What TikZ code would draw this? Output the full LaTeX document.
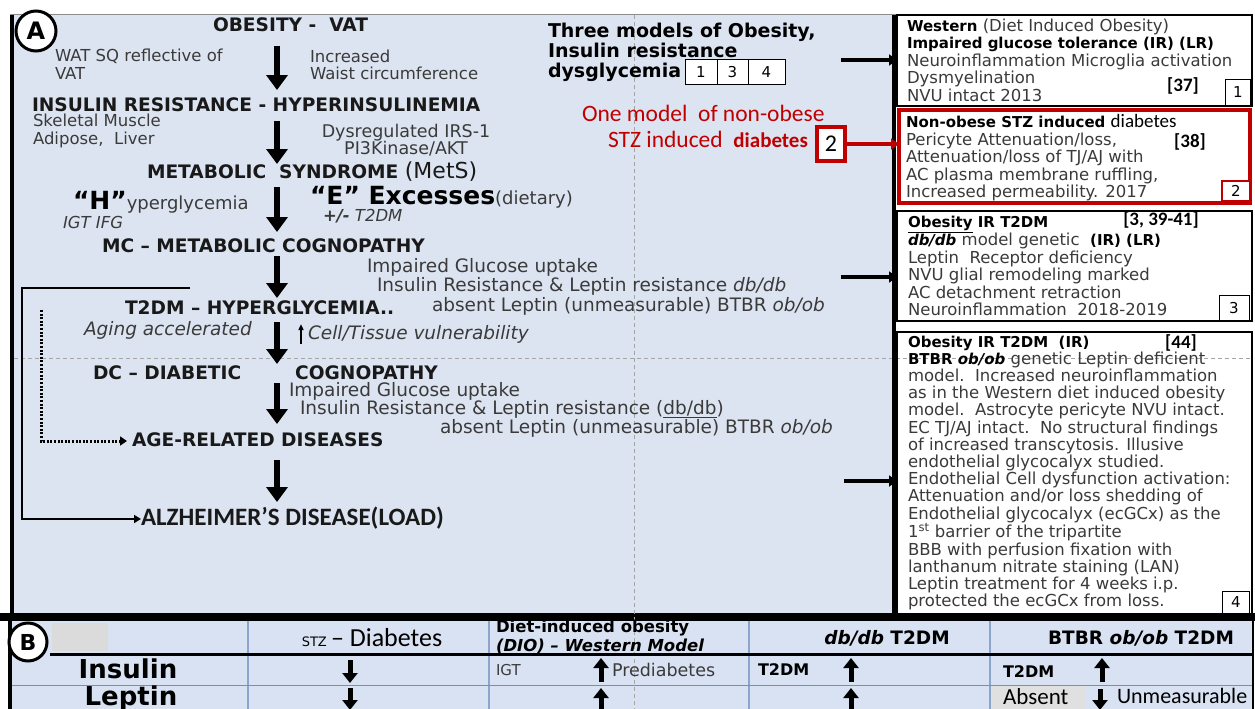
\documentclass[tikz,border=0pt]{standalone}
\usepackage{fontspec}
\setmainfont{DejaVu Sans}
\newfontfamily\calib{Carlito}
\usetikzlibrary{positioning,arrows.meta,calc}
\definecolor{PanelBlue}{RGB}{221,228,241}
\definecolor{TableBlue}{RGB}{217,226,242}
\definecolor{TextGray}{RGB}{58,58,58}
\definecolor{ModelRed}{RGB}{192,0,0}
\definecolor{GridBlue}{RGB}{140,165,205}
\definecolor{GuideGray}{RGB}{165,165,165}
\newcommand{\fsz}[2]{\fontsize{#1}{#2}\selectfont}
\newcommand{\hl}[1]{{\color{black}\bfseries\fsz{15}{17.5}#1}}

\begin{document}
\begin{tikzpicture}[x=1pt, y=-1pt,
  every node/.style={inner sep=0pt, outer sep=0pt},
  head/.style={anchor=west, text height=14pt, text depth=4pt, font=\fsz{18.6}{20}\bfseries, text=black!90},
  note/.style={anchor=west, align=left, text=TextGray, font=\fsz{16.5}{17.5}},
  mid/.style={anchor=west, text=TextGray, font=\fsz{18.5}{20}},
  boxtxt/.style={anchor=west, align=left, text=TextGray, font=\fsz{16.5}{17.5}},
  ref/.style={font=\calib\bfseries\fsz{19}{19}},
  numbox/.style={draw, line width=1pt, fill=white, font=\fsz{15}{15}},
  down/.style={line width=6.5pt, -{Triangle[width=21pt,length=15pt]}},
  side/.style={line width=4.5pt, -{Triangle[width=11pt,length=8pt]}},
  tarrow/.style={line width=5pt, -{Triangle[width=15pt,length=10pt]}},
  guide/.style={GuideGray, line width=0.8pt, dash pattern=on 4pt off 3pt}]
  \useasboundingbox (0,0) rectangle (1255,709);
  \fill[white] (0,0) rectangle (1255,709);

  % panel A and table backgrounds
  \fill[PanelBlue] (12,15) rectangle (894,613);
  \fill (0,613) rectangle (1255,621);
  \fill[TableBlue] (10,621) rectangle (1253,709);
  \fill[black!14] (52,623) rectangle (108,651);
  \fill[black!12] (992,686) rectangle (1085,709);
  \draw[guide] (634,15) -- (634,709);
  \draw[guide] (14,358) -- (1252,358);
  \draw[black!45, line width=1pt] (10,15) -- (1253,15);
  \draw[line width=4pt] (12,15) -- (12,613);
  \draw[line width=4pt] (894,15) -- (894,613);

  % right column
  \node[draw, line width=1.5pt, minimum width=355pt, minimum height=91pt] (b1) at (1074.5,60.5) {};
  \node[draw=ModelRed, line width=4pt, minimum width=351pt, minimum height=93pt] (b2) at (1074.5,156.5) {};
  \node[draw, line width=1.5pt, minimum width=355pt, minimum height=110pt] (b3) at (1074.5,266) {};
  \node[draw, line width=1.5pt, minimum width=355pt, minimum height=282pt] (b4) at (1074.5,473) {};

  \node[boxtxt] (w1) at (907,60) {\hl{Western} (Diet Induced Obesity)\\\hl{Impaired glucose tolerance (IR) (LR)}\\Neuroinflammation Microglia activation\\Dysmyelination\\NVU intact 2013};
  \node[boxtxt] (w2) at (906,158) {\hl{Non-obese STZ induced} {\color{black}\calib\fsz{19}{17.5}diabetes}\\Pericyte Attenuation/loss,\\Attenuation/loss of TJ/AJ with\\AC plasma membrane ruffling,\\Increased permeability. 2017};
  \node[boxtxt] (w3) at (908,266) {\hl{\underline{Obesity} IR T2DM}\\\hl{\itshape db/db} model genetic\ \ \hl{(IR) (LR)}\\Leptin\ \ Receptor deficiency\\NVU glial remodeling marked\\AC detachment retraction\\Neuroinflammation\ \ 2018-2019};
  \node[boxtxt, font=\fsz{16.5}{17.2}] (w4) at (908,473) {\hl{Obesity IR T2DM\ \ (IR)}\\\hl{BTBR \itshape ob/ob} genetic Leptin deficient\\model.\ \ Increased neuroinflammation\\as in the Western diet induced obesity\\model.\ \ Astrocyte pericyte NVU intact.\\EC TJ/AJ intact.\ \ No structural findings\\of increased transcytosis. Illusive\\endothelial glycocalyx studied.\\Endothelial Cell dysfunction activation:\\Attenuation and/or loss shedding of\\Endothelial glycocalyx (ecGCx) as the\\1\textsuperscript{st} barrier of the tripartite\\BBB with perfusion fixation with\\lanthanum nitrate staining (LAN)\\Leptin treatment for 4 weeks i.p.\\protected the ecGCx from loss.};

  \node[ref] (r37) at (1183,86) {[37]};
  \node[ref] (r38) at (1190,142) {[38]};
  \node[ref] (r41) at (1161,220) {[3, 39-41]};
  \node[ref] (r44) at (1181,343) {[44]};

  \node[numbox, minimum width=25pt, minimum height=26pt] (n1) at (1238,92) {1};
  \node[numbox, draw=ModelRed, line width=2.5pt, minimum width=28pt, minimum height=20pt] (n2) at (1236,191) {2};
  \node[numbox, minimum width=30pt, minimum height=25pt] (n3) at (1234,308) {3};
  \node[numbox, minimum width=27pt, minimum height=22pt] (n4) at (1236,602) {4};

  % panel A flow
  \node[circle, draw, line width=3pt, fill=white, minimum size=40pt, font=\fsz{24}{24}\bfseries] (la) at (36,31) {A};
  \node[head] (obes) at (213,27) {OBESITY -\ \ VAT};
  \node[note] (wat) at (55,64) {WAT SQ reflective of\\VAT};
  \node[note] (waist) at (310,65) {Increased\\Waist circumference};
  \node[head] (ir) at (32,106) {INSULIN RESISTANCE - HYPERINSULINEMIA};
  \node[note] (musc) at (33,131) {Skeletal Muscle\\Adipose,\ \ Liver};
  \node[note, align=center, anchor=center, font=\fsz{17.5}{17.5}] (irs) at (406,140) {Dysregulated IRS-1\\PI3Kinase/AKT};
  \node[head] (mets) at (147,173) {METABOLIC\ \ SYNDROME {\mdseries\fsz{22}{22}(MetS)}};
  \node[anchor=west, font=\fsz{18}{18}, text=TextGray] (hyp) at (73,202) {{\bfseries\fsz{25}{25}\color{black}“H”}yperglycemia};
  \node[anchor=west, font=\itshape\fsz{16.5}{16.5}, text=TextGray] (igt) at (63,222) {IGT IFG};
  \node[anchor=west, font=\fsz{18}{18}, text=TextGray] (exc) at (310,197) {{\bfseries\fsz{25}{25}\color{black}“E” Excesses}(dietary)};
  \node[anchor=west, font=\itshape\fsz{16.5}{16.5}, text=TextGray] (pm) at (323,216) {\bfseries +/-\mdseries\ T2DM};
  \node[head] (mc) at (102,247) {MC – METABOLIC COGNOPATHY};
  \node[mid] (glu1) at (367,267) {Impaired Glucose uptake};
  \node[mid] (res1) at (377,286) {Insulin Resistance \& Leptin resistance \textit{db/db}};
  \node[mid] (abs1) at (432,306) {absent Leptin (unmeasurable) BTBR \textit{ob/ob}};
  \node[head] (hg) at (125,309) {T2DM – HYPERGLYCEMIA..};
  \node[mid, font=\itshape\fsz{18.5}{20}] (aging) at (84,330) {Aging accelerated};
  \node[mid, font=\itshape\fsz{18.5}{20}] (cell) at (308,334) {Cell/Tissue vulnerability};
  \node[head] (dc) at (93,374) {DC – DIABETIC\hspace{54pt}COGNOPATHY};
  \node[mid] (glu2) at (289,391) {Impaired Glucose uptake};
  \node[mid] (res2) at (300,409) {Insulin Resistance \& Leptin resistance (\underline{db/db})};
  \node[mid] (abs2) at (440,428) {absent Leptin (unmeasurable) BTBR \textit{ob/ob}};
  \node[head] (age) at (132,441) {AGE-RELATED DISEASES};
  \node[head, font=\calib\bfseries\fsz{25}{25}, text height=17pt, text depth=5pt] (alz) at (141,519) {ALZHEIMER’S DISEASE(LOAD)};

  \coordinate (ax) at (277,0);
  \draw[down, shorten <=10pt, shorten >=7pt] (obes.south -| ax) -- (ir.north -| ax);
  \draw[down, shorten <=6pt, shorten >=0pt] (ir.south -| ax) -- (mets.north -| ax);
  \draw[down, shorten <=5pt, shorten >=6pt] (mets.south -| ax) -- (mc.north -| ax);
  \draw[down, shorten <=0pt, shorten >=2pt] (mc.south -| ax) -- (hg.north -| ax);
  \draw[down, shorten <=4pt, shorten >=1pt] (hg.south -| ax) -- (dc.north -| ax);
  \draw[down, shorten <=0pt, shorten >=8pt] (dc.south -| ax) -- (age.north -| ax);
  \draw[down, shorten <=10pt, shorten >=6pt] (age.south -| ax) -- (alz.north -| ax);
  \draw[line width=1.8pt, -{Triangle[width=5pt,length=6pt]}] ([xshift=-7pt,yshift=-1pt]cell.south west) -- ([xshift=-7pt,yshift=1pt]cell.north west);

  \coordinate (br) at (190,288);
  \coordinate (bl) at (22,288);
  \draw[line width=2pt, -{Triangle[width=8pt,length=7pt]}] (br) -- (bl) |- (alz.west);
  \coordinate (dt) at (41,310);
  \draw[line width=3pt, dash pattern=on 2pt off 1.6pt, -{Triangle[width=9pt,length=7pt]}] (dt) |- ([xshift=-5pt]age.west);

  % three models
  \node[anchor=west, align=left, font=\bfseries\fsz{19}{20}] (three) at (548,52) {Three models of Obesity,\\Insulin resistance\\dysglycemia};
  \node[numbox, minimum width=32pt, minimum height=25pt] (m1) at (701,72) {1};
  \node[numbox, minimum width=31pt, minimum height=25pt, right=0pt of m1] (m3) {3};
  \node[numbox, minimum width=37pt, minimum height=25pt, right=0pt of m3] (m4) {4};
  \node[anchor=west, text=ModelRed, font=\calib\fsz{23.5}{23.5}] (one) at (582,113) {One model\ \ of non-obese};
  \node[anchor=west, text=ModelRed, font=\calib\fsz{23.5}{23.5}] (stz) at (608,139) {STZ induced\ \ {\bfseries\fsz{21}{21}diabetes}};
  \node[draw=ModelRed, line width=4pt, fill=white, minimum width=28pt, minimum height=34pt, font=\calib\fsz{24}{24}] (m2) at (831,144) {2};

  \coordinate (t1) at (841,60);
  \coordinate (t3) at (841,277);
  \coordinate (t4) at (844,481);
  \draw[side] (t1) -- (t1 -| b1.west);
  \draw[side, ModelRed] (m2.east) -- (m2 -| b2.west);
  \draw[side] (t3) -- (t3 -| b3.west);
  \draw[side] (t4) -- (t4 -| b4.west);

  % panel B table
  \draw[GridBlue, line width=1.2pt] (248,621) -- (248,709) (489,621) -- (489,709) (749,621) -- (749,709) (990,621) -- (990,709);
  \draw[black!45, line width=1pt] (10,685) -- (1253,685);
  \draw[line width=3pt] (50,654) -- (1253,654);
  \draw[line width=4pt] (10,621) -- (10,709);
  \draw[line width=2pt] (1253,621) -- (1253,709);
  \node[circle, draw, line width=3pt, fill=white, minimum size=38pt, font=\bfseries\fsz{22}{22}] (lb) at (28,642) {B};
  \node[font=\fsz{13}{13}] (hstz) at (372,638) {STZ {\calib\fsz{26}{26}– Diabetes}};
  \node[anchor=west, align=left, font=\bfseries\fsz{16.5}{19}] (hdio) at (496,637) {Diet-induced obesity\\\textit{(DIO) – Western Model}};
  \node[font=\bfseries\fsz{18.5}{18.5}] (hdb) at (887,638) {\textit{db/db} T2DM};
  \node[font=\bfseries\fsz{18.5}{18.5}] (hob) at (1141,638) {BTBR \textit{ob/ob} T2DM};
  \node[font=\bfseries\fsz{26}{26}] (ins) at (128,669) {Insulin};
  \node[font=\bfseries\fsz{26}{26}] (lep) at (131,698) {Leptin};
  \node[anchor=west, font=\fsz{15}{15}, text=TextGray] (igt2) at (496,670) {IGT};
  \node[anchor=west, font=\fsz{17.5}{17.5}, text=TextGray] (pre) at (612,670) {Prediabetes};
  \node[anchor=west, font=\bfseries\fsz{16}{16}] (tdb) at (758,670) {T2DM};
  \node[anchor=west, font=\bfseries\fsz{16}{16}] (tob) at (1003,672) {T2DM};
  \node[anchor=west, font=\calib\fsz{23}{23}] (absent) at (1003,697) {Absent};
  \node[anchor=west, font=\calib\fsz{22}{22}] (unm) at (1117,696) {Unmeasurable};

  \coordinate (s1) at (350,660);
  \coordinate (s2) at (350,688);
  \coordinate (d1) at (601,682);
  \coordinate (d2) at (601,711);
  \coordinate (g1) at (851,682);
  \coordinate (g2) at (851,711);
  \coordinate (o1) at (1102,682);
  \coordinate (o2) at (1100,689);
  \draw[tarrow] (s1) -- ++(0,23);
  \draw[tarrow] (s2) -- ++(0,22);
  \draw[tarrow] (d1) -- ++(0,-24);
  \draw[tarrow] (d2) -- ++(0,-23);
  \draw[tarrow] (g1) -- ++(0,-24);
  \draw[tarrow] (g2) -- ++(0,-23);
  \draw[tarrow] (o1) -- ++(0,-24);
  \draw[tarrow] (o2) -- ++(0,21);
\end{tikzpicture}
\end{document}
